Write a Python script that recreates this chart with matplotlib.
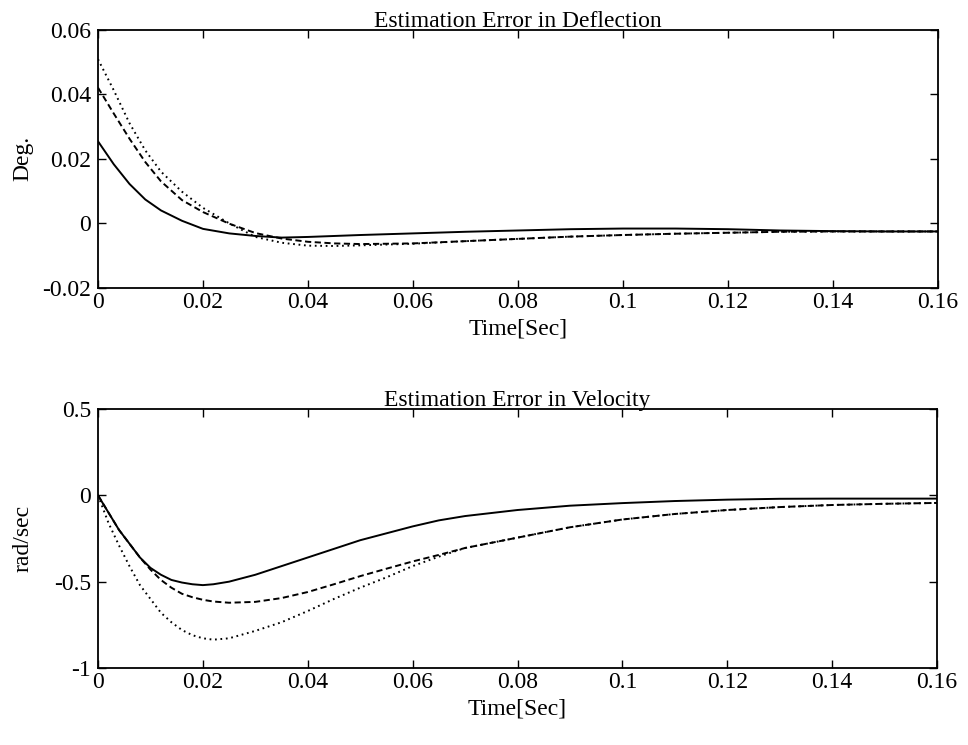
import matplotlib
matplotlib.use("Agg")
import matplotlib.pyplot as plt

plt.rcParams['font.family'] = ['Liberation Serif', 'DejaVu Serif']

# ---- Data: Estimation Error in Deflection ----
t_defl = [0, 0.003, 0.006, 0.009, 0.012, 0.016, 0.02, 0.025, 0.03, 0.035, 0.04,
          0.045, 0.05, 0.06, 0.07, 0.08, 0.09, 0.1, 0.11, 0.12, 0.13, 0.14, 0.15, 0.16]
defl_solid = [0.0254, 0.0183, 0.0122, 0.0074, 0.0040, 0.0008, -0.0017, -0.0031, -0.0039,
              -0.0044, -0.0042, -0.0039, -0.0036, -0.0031, -0.0026, -0.0022, -0.0018,
              -0.0016, -0.0016, -0.0018, -0.0022, -0.0024, -0.0025, -0.0025]
defl_dashed = [0.0420, 0.0340, 0.0262, 0.0190, 0.0130, 0.0072, 0.0035, -0.0001, -0.0030,
               -0.0047, -0.0057, -0.0062, -0.0064, -0.0062, -0.0055, -0.0048, -0.0041,
               -0.0036, -0.0032, -0.0029, -0.0026, -0.0025, -0.0025, -0.0025]
defl_dotted = [0.0508, 0.0412, 0.0310, 0.0226, 0.0160, 0.0098, 0.0048, 0.0000, -0.0042,
               -0.0060, -0.0069, -0.0070, -0.0068, -0.0063, -0.0055, -0.0048, -0.0041,
               -0.0036, -0.0032, -0.0029, -0.0026, -0.0025, -0.0025, -0.0025]

# ---- Data: Estimation Error in Velocity ----
t_vel = [0, 0.002, 0.004, 0.006, 0.008, 0.01, 0.012, 0.014, 0.016, 0.018, 0.02, 0.022,
         0.025, 0.03, 0.035, 0.04, 0.045, 0.05, 0.055, 0.06, 0.065, 0.07, 0.08, 0.09,
         0.1, 0.11, 0.12, 0.13, 0.14, 0.15, 0.16]
vel_solid = [0, -0.10, -0.20, -0.28, -0.36, -0.42, -0.46, -0.49, -0.505, -0.515, -0.52,
             -0.515, -0.50, -0.46, -0.41, -0.36, -0.31, -0.26, -0.22, -0.18, -0.145,
             -0.12, -0.085, -0.06, -0.045, -0.033, -0.025, -0.02, -0.019, -0.019, -0.019]
vel_dashed = [0, -0.10, -0.20, -0.28, -0.36, -0.43, -0.49, -0.535, -0.57, -0.59, -0.605,
              -0.615, -0.622, -0.617, -0.595, -0.56, -0.515, -0.468, -0.425, -0.383,
              -0.345, -0.305, -0.245, -0.185, -0.14, -0.108, -0.085, -0.068, -0.056,
              -0.049, -0.044]
vel_dotted = [0, -0.16, -0.29, -0.41, -0.52, -0.60, -0.68, -0.735, -0.78, -0.81, -0.828,
              -0.836, -0.828, -0.785, -0.735, -0.67, -0.60, -0.535, -0.475, -0.41,
              -0.355, -0.305, -0.245, -0.185, -0.14, -0.108, -0.085, -0.068, -0.056,
              -0.049, -0.044]

x_ticks = [0, 0.02, 0.04, 0.06, 0.08, 0.1, 0.12, 0.14, 0.16]
x_ticklabels = ['0', '0.02', '0.04', '0.06', '0.08', '0.1', '0.12', '0.14', '0.16']
defl_yticks = [-0.02, 0, 0.02, 0.04, 0.06]
defl_yticklabels = ['-0.02', '0', '0.02', '0.04', '0.06']
vel_yticks = [-1, -0.5, 0, 0.5]
vel_yticklabels = ['-1', '-0.5', '0', '0.5']

FS = 17
fig = plt.figure(figsize=(9.68, 7.45), dpi=100)
ax1 = fig.add_axes([98/968, 1-288/745, 840/968, (288-29.5)/745])
ax2 = fig.add_axes([98/968, 1-668/745, 839/968, (668-409)/745])

lw = 1.4
dash = (0, (3.2, 1.8))
dot = (0, (0.9, 1.9))

ax1.plot(t_defl, defl_solid, color='black', lw=lw, ls='-')
ax1.plot(t_defl, defl_dashed, color='black', lw=lw, ls=dash)
ax1.plot(t_defl, defl_dotted, color='black', lw=lw, ls=dot)

ax2.plot(t_vel, vel_solid, color='black', lw=lw, ls='-')
ax2.plot(t_vel, vel_dashed, color='black', lw=lw, ls=dash)
ax2.plot(t_vel, vel_dotted, color='black', lw=lw, ls=dot)

for ax, yt, ytl, yl, title, ylab in [
        (ax1, defl_yticks, defl_yticklabels, (-0.02, 0.06), 'Estimation Error in Deflection', 'Deg.'),
        (ax2, vel_yticks, vel_yticklabels, (-1, 0.5), 'Estimation Error in Velocity', 'rad/sec')]:
    ax.set_xlim(0, 0.16)
    ax.set_ylim(*yl)
    ax.set_xticks(x_ticks)
    ax.set_xticklabels(x_ticklabels, fontsize=FS)
    ax.set_yticks(yt)
    ax.set_yticklabels(ytl, fontsize=FS)
    ax.tick_params(direction='in', top=True, right=True, length=6, width=1.0)
    ax.tick_params(axis='x', pad=3)
    ax.tick_params(axis='y', pad=5)
    for s in ax.spines.values():
        s.set_linewidth(1.3)
    ax.set_title(title, fontsize=FS, pad=2)
    ax.set_xlabel('Time[Sec]', fontsize=FS, labelpad=4)
    ax.set_ylabel(ylab, fontsize=FS)
    ax.yaxis.set_label_coords(-0.077, 0.5)

fig.savefig('out.png', dpi=100, facecolor='white')
